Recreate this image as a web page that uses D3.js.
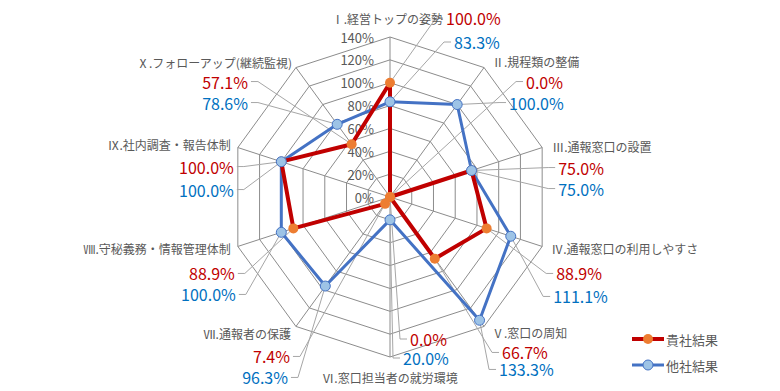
<!DOCTYPE html>
<html>
<head>
<meta charset="utf-8">
<script src="https://cdn.jsdelivr.net/npm/d3@7"></script>
<style>
  html, body { margin: 0; padding: 0; background: #fff; }
  svg { display: block; font-family: "Noto Sans CJK JP", "Noto Sans", sans-serif; }
</style>
</head>
<body>
<svg class="radar" width="780" height="391"></svg>
<script>
const categories = [
  "Ⅰ.経営トップの姿勢", "Ⅱ.規程類の整備", "Ⅲ.通報窓口の設置", "Ⅳ.通報窓口の利用しやすさ",
  "Ⅴ.窓口の周知", "Ⅵ.窓口担当者の就労環境", "Ⅶ.通報者の保護", "Ⅷ.守秘義務・情報管理体制",
  "Ⅸ.社内調査・報告体制", "Ⅹ.フォローアップ(継続監視)"
];
const ownValues = [100.0, 0.0, 75.0, 88.9, 66.7, 0.0, 7.4, 88.9, 100.0, 57.1];
const otherValues = [83.3, 100.0, 75.0, 111.1, 133.3, 20.0, 96.3, 100.0, 100.0, 78.6];
const seriesNames = ["貴社結果", "他社結果"];
const tickValues = [0, 20, 40, 60, 80, 100, 120, 140];

// label placement, offsets from the outer vertex of each axis: [dx, dy, anchor]
const catPos = [[53, -19, "end"], [8, -6, "start"], [10, -1, "start"], [9, 2, "start"], [8, 6, "start"],
  [0, 20, "middle"], [-5, 7, "end"], [-7, 2, "end"], [-7, -3, "end"], [-4, -5, "end"]];
const ownPos = [[56, -19, "start"], [42, 14, "start"], [16, 20, "start"], [14, 27, "start"], [18, 26, "start"],
  [20, -18, "start"], [-6, 30, "end"], [-3, 27, "end"], [-4, 19, "end"], [-48, 14, "end"]];
const otherPos = [[64, 5, "start"], [25, 35, "start"], [16, 41, "start"], [11, 50, "start"], [15, 43, "start"],
  [13, 1, "start"], [-8, 51, "end"], [-2, 48, "end"], [-4, 42, "end"], [-48, 35, "end"]];

const svg = d3.select(".radar");
const cx = 390, cy = 197, R = 160;
const n = categories.length;

const rScale = d3.scaleLinear().domain([0, 140]).range([0, R]);
const angle = i => i * 2 * Math.PI / n;
const pt = (i, v) => [cx + rScale(v) * Math.sin(angle(i)), cy - rScale(v) * Math.cos(angle(i))];

const grid = svg.append("g").attr("class", "grid");
const ring = d3.line().x(d => d[0]).y(d => d[1]).curve(d3.curveLinearClosed);

tickValues.slice(1).forEach(t => {
  grid.append("path")
    .attr("d", ring(d3.range(n).map(i => pt(i, t))))
    .attr("fill", "none")
    .attr("stroke", "#8c8c8c")
    .attr("stroke-width", 1);
});

d3.range(n).forEach(i => {
  const [x, y] = pt(i, 140);
  grid.append("line")
    .attr("x1", cx).attr("y1", cy).attr("x2", x).attr("y2", y)
    .attr("stroke", "#8c8c8c")
    .attr("stroke-width", 1);
});

svg.append("g")
  .selectAll("text")
  .data(tickValues)
  .join("text")
  .attr("x", cx - 16)
  .attr("y", d => cy - rScale(d))
  .attr("text-anchor", "end")
  .attr("dominant-baseline", "central")
  .attr("font-size", 13)
  .attr("fill", "#595959")
  .text(d => d + "%");

// leader lines from data point to label
const leaders = svg.append("g").attr("class", "leaders");
const labelXY = (i, p) => {
  const [vx, vy] = pt(i, 140);
  return [vx + p[0], vy + p[1], p[2]];
};
const valueWidth = v => v.toFixed(1).length * 8.6 + 5;

function drawLeaders(values, pos) {
  values.forEach((v, i) => {
    const [px, py] = pt(i, v);
    const [lx, ly, a] = labelXY(i, pos[i]);
    const w = valueWidth(v);
    let sx;
    if (a === "start") sx = lx - 3;
    else if (a === "end") sx = lx + 3;
    else sx = lx - w / 2 - 3;
    const dir = a === "end" ? 1 : -1;
    leaders.append("polyline")
      .attr("points", [[px, py], [sx + dir * 7, ly], [sx, ly]].map(d => d.join(",")).join(" "))
      .attr("fill", "none")
      .attr("stroke", "#a6a6a6")
      .attr("stroke-width", 1);
  });
}
drawLeaders(ownValues, ownPos);
drawLeaders(otherValues, otherPos);

const seriesLine = values => ring(values.map((v, i) => pt(i, v)));

svg.append("path")
  .attr("d", seriesLine(otherValues))
  .attr("fill", "none")
  .attr("stroke", "#4472c4")
  .attr("stroke-width", 3)
  .attr("stroke-linejoin", "round");

svg.append("path")
  .attr("d", seriesLine(ownValues))
  .attr("fill", "none")
  .attr("stroke", "#c00000")
  .attr("stroke-width", 4)
  .attr("stroke-linejoin", "round");

svg.append("g")
  .selectAll("circle")
  .data(ownValues)
  .join("circle")
  .attr("cx", (d, i) => pt(i, d)[0])
  .attr("cy", (d, i) => pt(i, d)[1])
  .attr("r", 5)
  .attr("fill", "#ed7d31");

svg.append("g")
  .selectAll("circle")
  .data(otherValues)
  .join("circle")
  .attr("cx", (d, i) => pt(i, d)[0])
  .attr("cy", (d, i) => pt(i, d)[1])
  .attr("r", 5)
  .attr("fill", "#9dc3e6")
  .attr("stroke", "#4472c4")
  .attr("stroke-width", 1);

// labels
const labels = svg.append("g").attr("class", "labels");
categories.forEach((c, i) => {
  const [x, y, a] = labelXY(i, catPos[i]);
  labels.append("text")
    .attr("x", x).attr("y", y)
    .attr("text-anchor", a)
    .attr("dominant-baseline", "central")
    .attr("font-size", 12)
    .attr("fill", "#595959")
    .text(c);
});

function drawValues(values, pos, color) {
  values.forEach((v, i) => {
    const [x, y, a] = labelXY(i, pos[i]);
    labels.append("text")
      .attr("x", x).attr("y", y)
      .attr("text-anchor", a)
      .attr("dominant-baseline", "central")
      .attr("font-size", 16)
      .attr("fill", color)
      .text(v.toFixed(1) + "%");
  });
}
drawValues(ownValues, ownPos, "#c00000");
drawValues(otherValues, otherPos, "#0070c0");

// legend
const legend = svg.append("g").attr("class", "legend");
const legendItems = [
  { name: seriesNames[0], stroke: "#c00000", width: 4, fill: "#ed7d31", mstroke: "none" },
  { name: seriesNames[1], stroke: "#4472c4", width: 3, fill: "#9dc3e6", mstroke: "#4472c4" }
];
legendItems.forEach((d, i) => {
  const y = 339 + i * 26;
  legend.append("line")
    .attr("x1", 632).attr("x2", 664).attr("y1", y).attr("y2", y)
    .attr("stroke", d.stroke).attr("stroke-width", d.width);
  legend.append("circle")
    .attr("cx", 648).attr("cy", y).attr("r", 5)
    .attr("fill", d.fill).attr("stroke", d.mstroke);
  legend.append("text")
    .attr("x", 666).attr("y", y)
    .attr("dominant-baseline", "central")
    .attr("font-size", 13)
    .attr("fill", "#595959")
    .text(d.name);
});
</script>
</body>
</html>
